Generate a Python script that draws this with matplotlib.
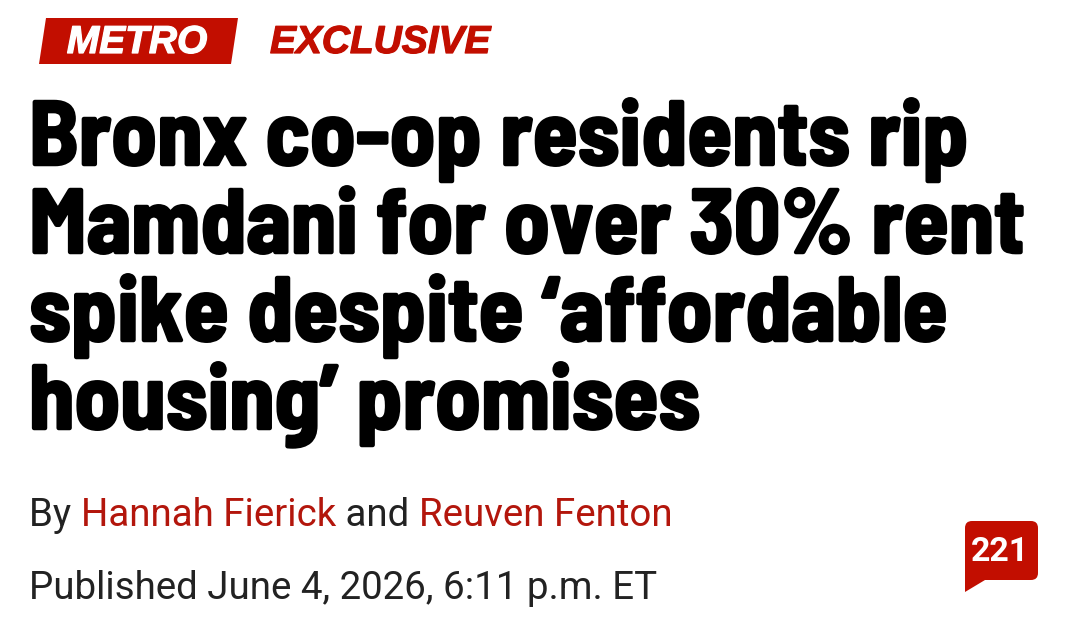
# -*- coding: utf-8 -*-
import matplotlib
matplotlib.use("Agg")
import matplotlib.pyplot as plt
import matplotlib.patheffects as pe
from matplotlib.patches import Polygon, FancyBboxPatch

W, H = 1080, 629
RED = "#c20e00"
DARK_RED = "#b3160c"
INK = "#222222"

kicker = "METRO"
tag = "EXCLUSIVE"
headline = ["Bronx co-op residents rip",
            "Mamdani for over 30% rent",
            "spike despite ‘affordable",
            "housing’ promises"]
head_y = [165, 253, 341, 429]
comments = "221"

fig = plt.figure(figsize=(W / 100, H / 100), dpi=100)
ax = fig.add_axes([0, 0, 1, 1])
ax.set_xlim(0, W)
ax.set_ylim(H, 0)
ax.axis("off")

# kicker
thick = [pe.withStroke(linewidth=0.9, foreground="white")]
ax.add_patch(Polygon([(46, 18), (238, 18), (231, 64), (39, 64)], color=RED, lw=0))
ax.text(137, 53, kicker, color="white", fontsize=28, family="Liberation Sans",
        weight="bold", style="italic", ha="center", va="baseline", path_effects=thick)
ax.text(270, 53, tag, color=RED, fontsize=28, family="Liberation Sans",
        weight="bold", style="italic", va="baseline",
        path_effects=[pe.withStroke(linewidth=0.9, foreground=RED)])

# headline, condensed face thickened to get the tight heavy look
heavy = [pe.withStroke(linewidth=1.8, foreground="black")]
for line, y in zip(headline, head_y):
    ax.text(29, y, line, color="black", fontsize=65.8,
            family=["Barlow Semi Condensed", "Liberation Sans"],
            weight="bold", va="baseline", path_effects=heavy)

# byline
fam = "Roboto"
x = 29
for part, col in [("By ", INK), ("Hannah Fierick", DARK_RED),
                  (" and ", INK), ("Reuven Fenton", DARK_RED)]:
    t = ax.text(x, 526, part.replace(" ", "\u00a0"), color=col, fontsize=27.7, family=fam, va="baseline")
    fig.canvas.draw()
    x = ax.transData.inverted().transform(t.get_window_extent().get_points())[1][0]
ax.text(29, 599, "Published June 4, 2026, 6:11 p.m. ET", color=INK,
        fontsize=27.7, family=fam, va="baseline")

# comment bubble
ax.add_patch(FancyBboxPatch((965, 521), 73, 59, boxstyle="round,pad=0,rounding_size=7", color=RED, lw=0))
ax.add_patch(Polygon([(965, 565), (990, 580), (985, 580), (965, 592)], color=RED, lw=0))
ax.text(1000, 561, comments, color="white", fontsize=24.5, family="Roboto",
        weight="bold", ha="center", va="baseline")

fig.savefig("out.png", dpi=100)
